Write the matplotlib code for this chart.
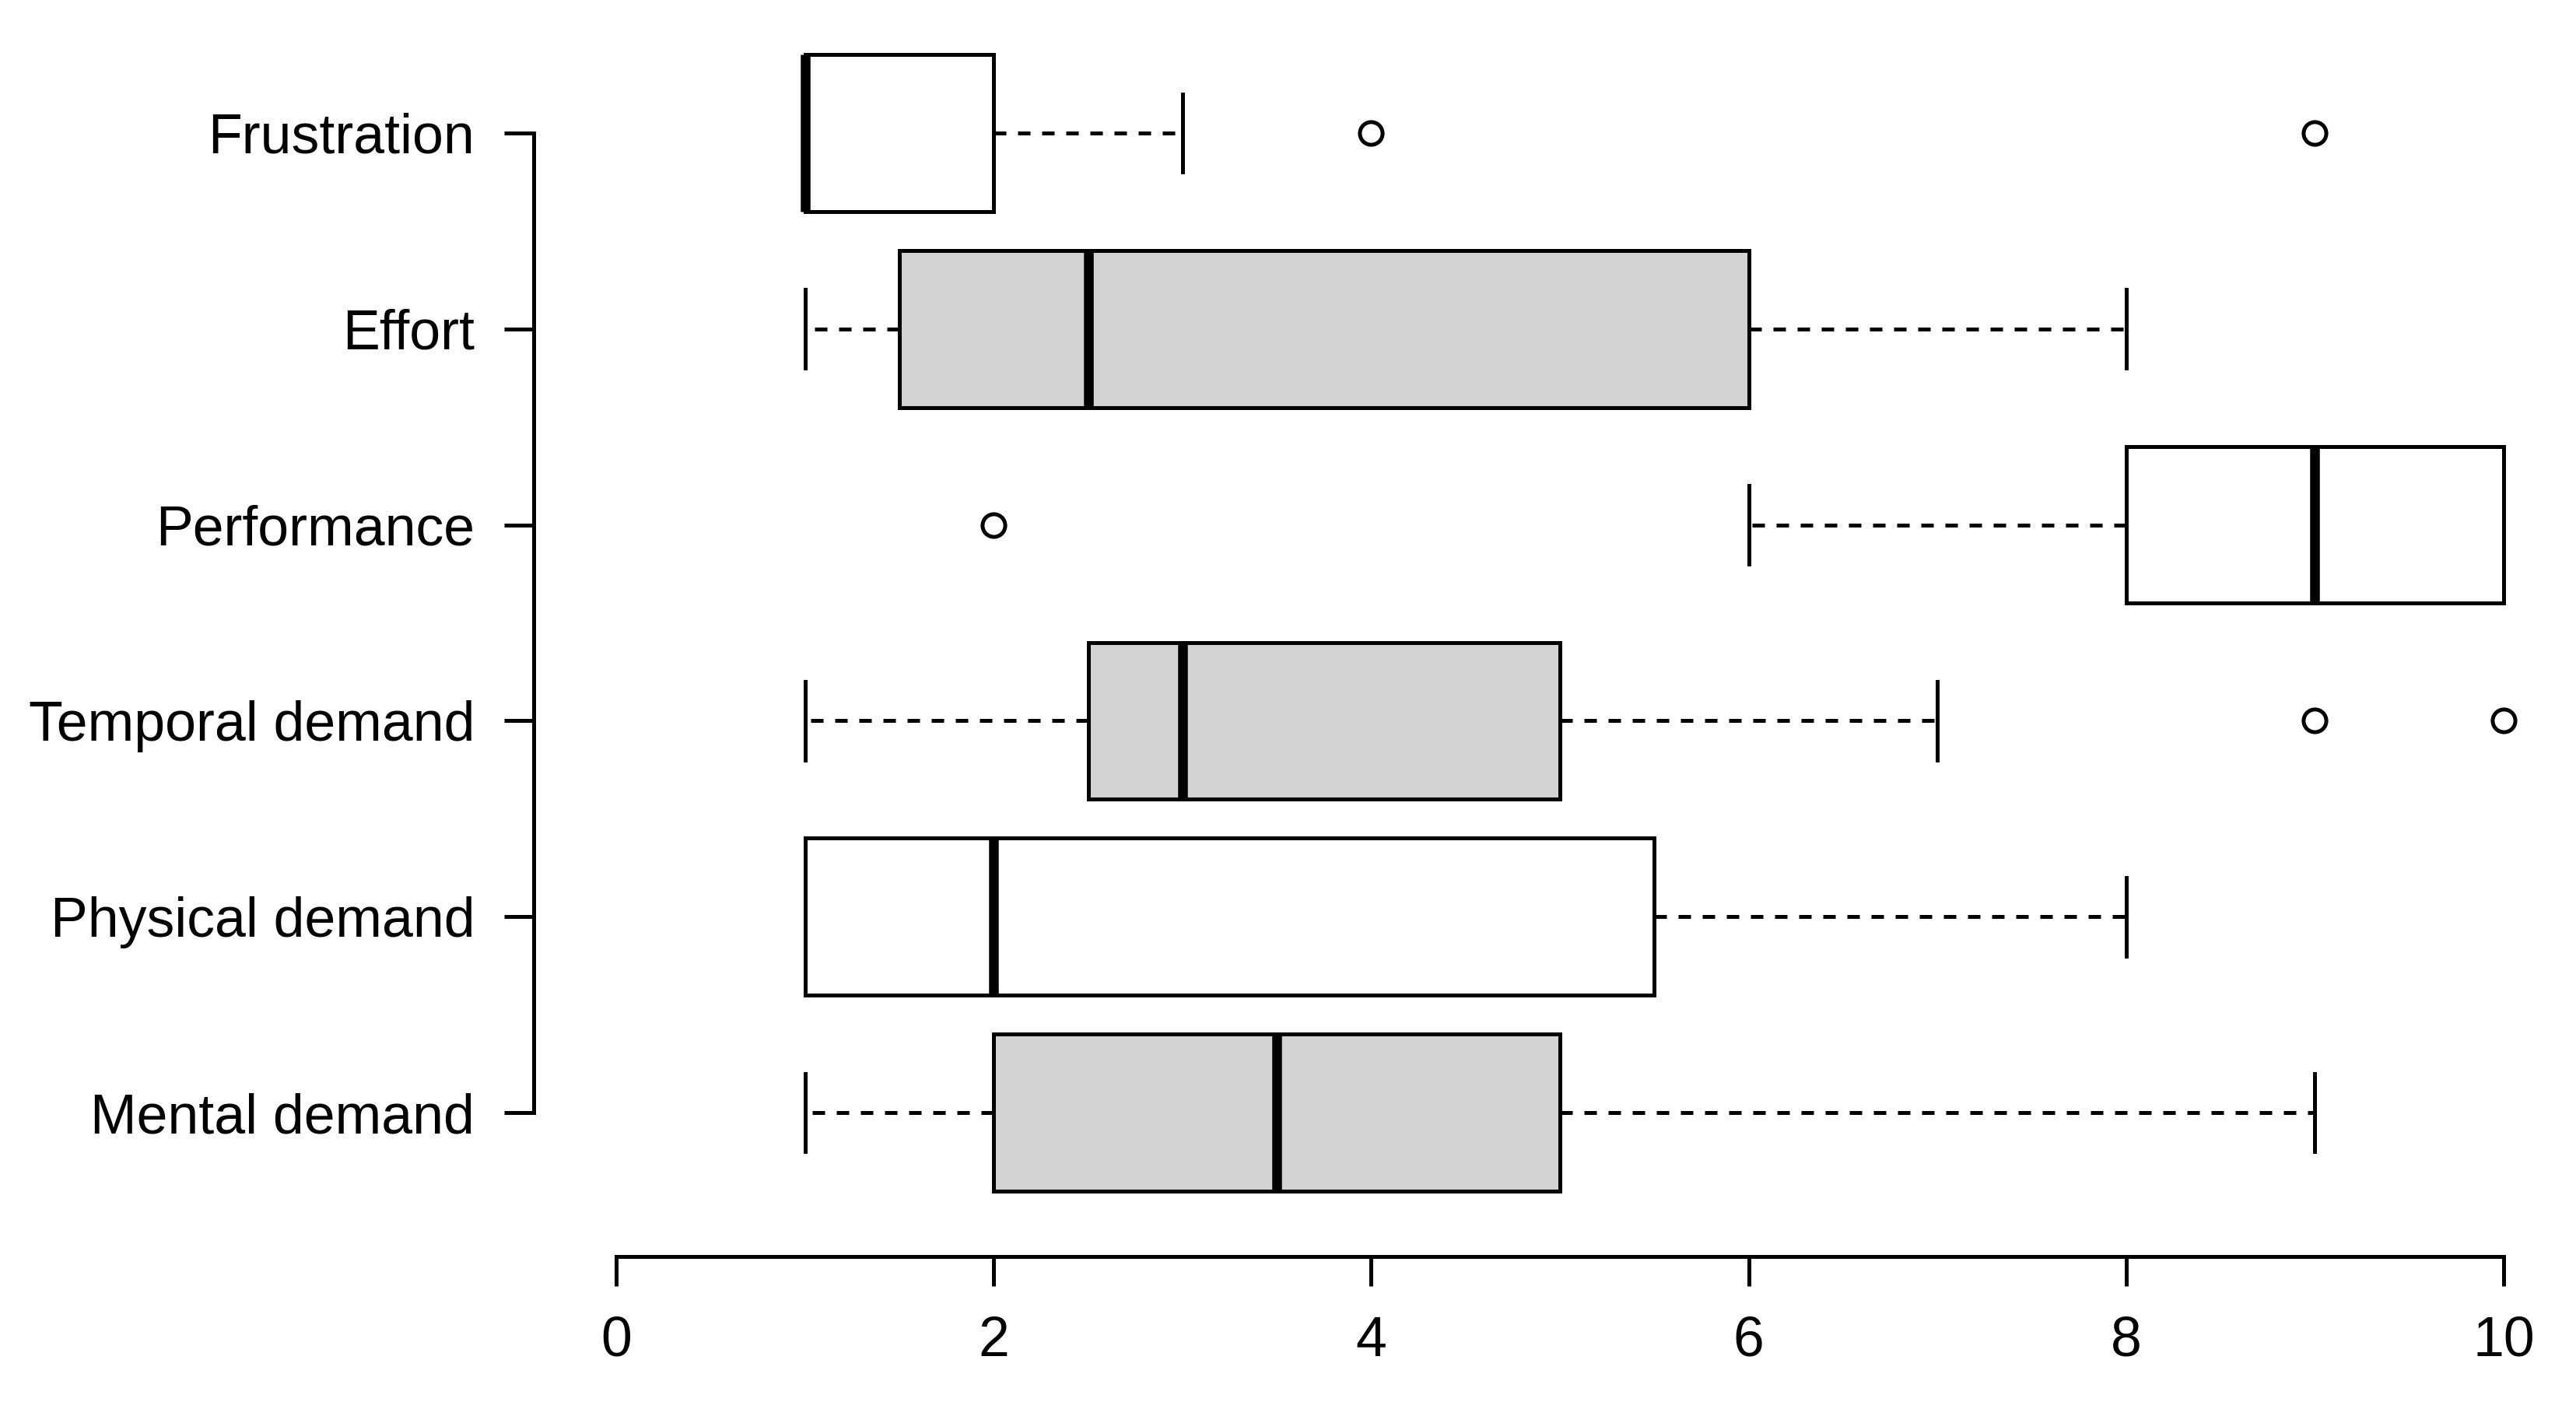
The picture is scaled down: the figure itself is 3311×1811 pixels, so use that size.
import matplotlib
matplotlib.use("Agg")
import matplotlib.pyplot as plt

plt.rcParams['font.family'] = ['Liberation Sans', 'DejaVu Sans']

# bottom to top, as R draws them
labels = ['Mental demand', 'Physical demand', 'Temporal demand',
          'Performance', 'Effort', 'Frustration']
q1 = [2, 1, 2.5, 8, 1.5, 1]
med = [3.5, 2, 3, 9, 2.5, 1]
q3 = [5, 5.5, 5, 10, 6, 2]
whislo = [1, 1, 1, 6, 1, 1]
whishi = [9, 8, 7, 10, 8, 3]
fliers = [[], [], [9, 10], [2], [], [4, 9]]
fills = ['#d3d3d3', 'white', '#d3d3d3', 'white', '#d3d3d3', 'white']
xticks = [0, 2, 4, 6, 8, 10]

W, H, DPI = 3311, 1811, 300
fig = plt.figure(figsize=(W / DPI, H / DPI), dpi=DPI)

# plot region in pixels: x 0 -> 792, 10 -> 3218 ; y pos 6 -> 171, pos 1 -> 1430
px_x = (3218 - 792) / 10.0
px_y = (1430 - 171) / 5.0
xlo, xhi = -0.4, 10.38
ylo, yhi = 0.5, 6.5
left = 792 + xlo * px_x
right = 792 + xhi * px_x
bottom = 1430 + (1 - ylo) * px_y
top = 171 - (yhi - 6) * px_y
ax = fig.add_axes([left / W, 1 - bottom / H, (right - left) / W, (bottom - top) / H])

stats = []
for i in range(len(labels)):
    stats.append(dict(med=med[i], q1=q1[i], q3=q3[i], whislo=whislo[i],
                      whishi=whishi[i], fliers=fliers[i], label=labels[i]))

lw = 1.2
bp = ax.bxp(stats, positions=range(1, 7), vert=False, widths=0.8,
            capwidths=0.4, patch_artist=True, showfliers=True,
            boxprops=dict(linewidth=lw, edgecolor='black'),
            medianprops=dict(linewidth=3.0, color='black', solid_capstyle='butt'),
            whiskerprops=dict(linewidth=lw, linestyle=(0, (3.2, 3.0)), color='black'),
            capprops=dict(linewidth=lw, color='black'),
            flierprops=dict(marker='o', markersize=7, markerfacecolor='none',
                            markeredgecolor='black', markeredgewidth=lw))
for patch, c in zip(bp['boxes'], fills):
    patch.set_facecolor(c)

ax.set_xlim(xlo, xhi)
ax.set_ylim(ylo, yhi)
ax.set_xticks(xticks)
ax.set_xticklabels([str(t) for t in xticks])
ax.set_yticks(range(1, 7))
ax.set_yticklabels(labels)

for s in ['top', 'right']:
    ax.spines[s].set_visible(False)
ax.spines['bottom'].set_position(('outward', 59 / DPI * 72))
ax.spines['left'].set_position(('outward', 9 / DPI * 72))
ax.spines['bottom'].set_bounds(0, 10)
ax.spines['left'].set_bounds(1, 6)
ax.spines['bottom'].set_linewidth(lw)
ax.spines['left'].set_linewidth(lw)
ax.tick_params(axis='both', length=9.2, width=lw, labelsize=17.2, pad=9,
               direction='out', colors='black')
ax.patch.set_alpha(0)

fig.savefig('out.png', dpi=DPI, facecolor='white')
